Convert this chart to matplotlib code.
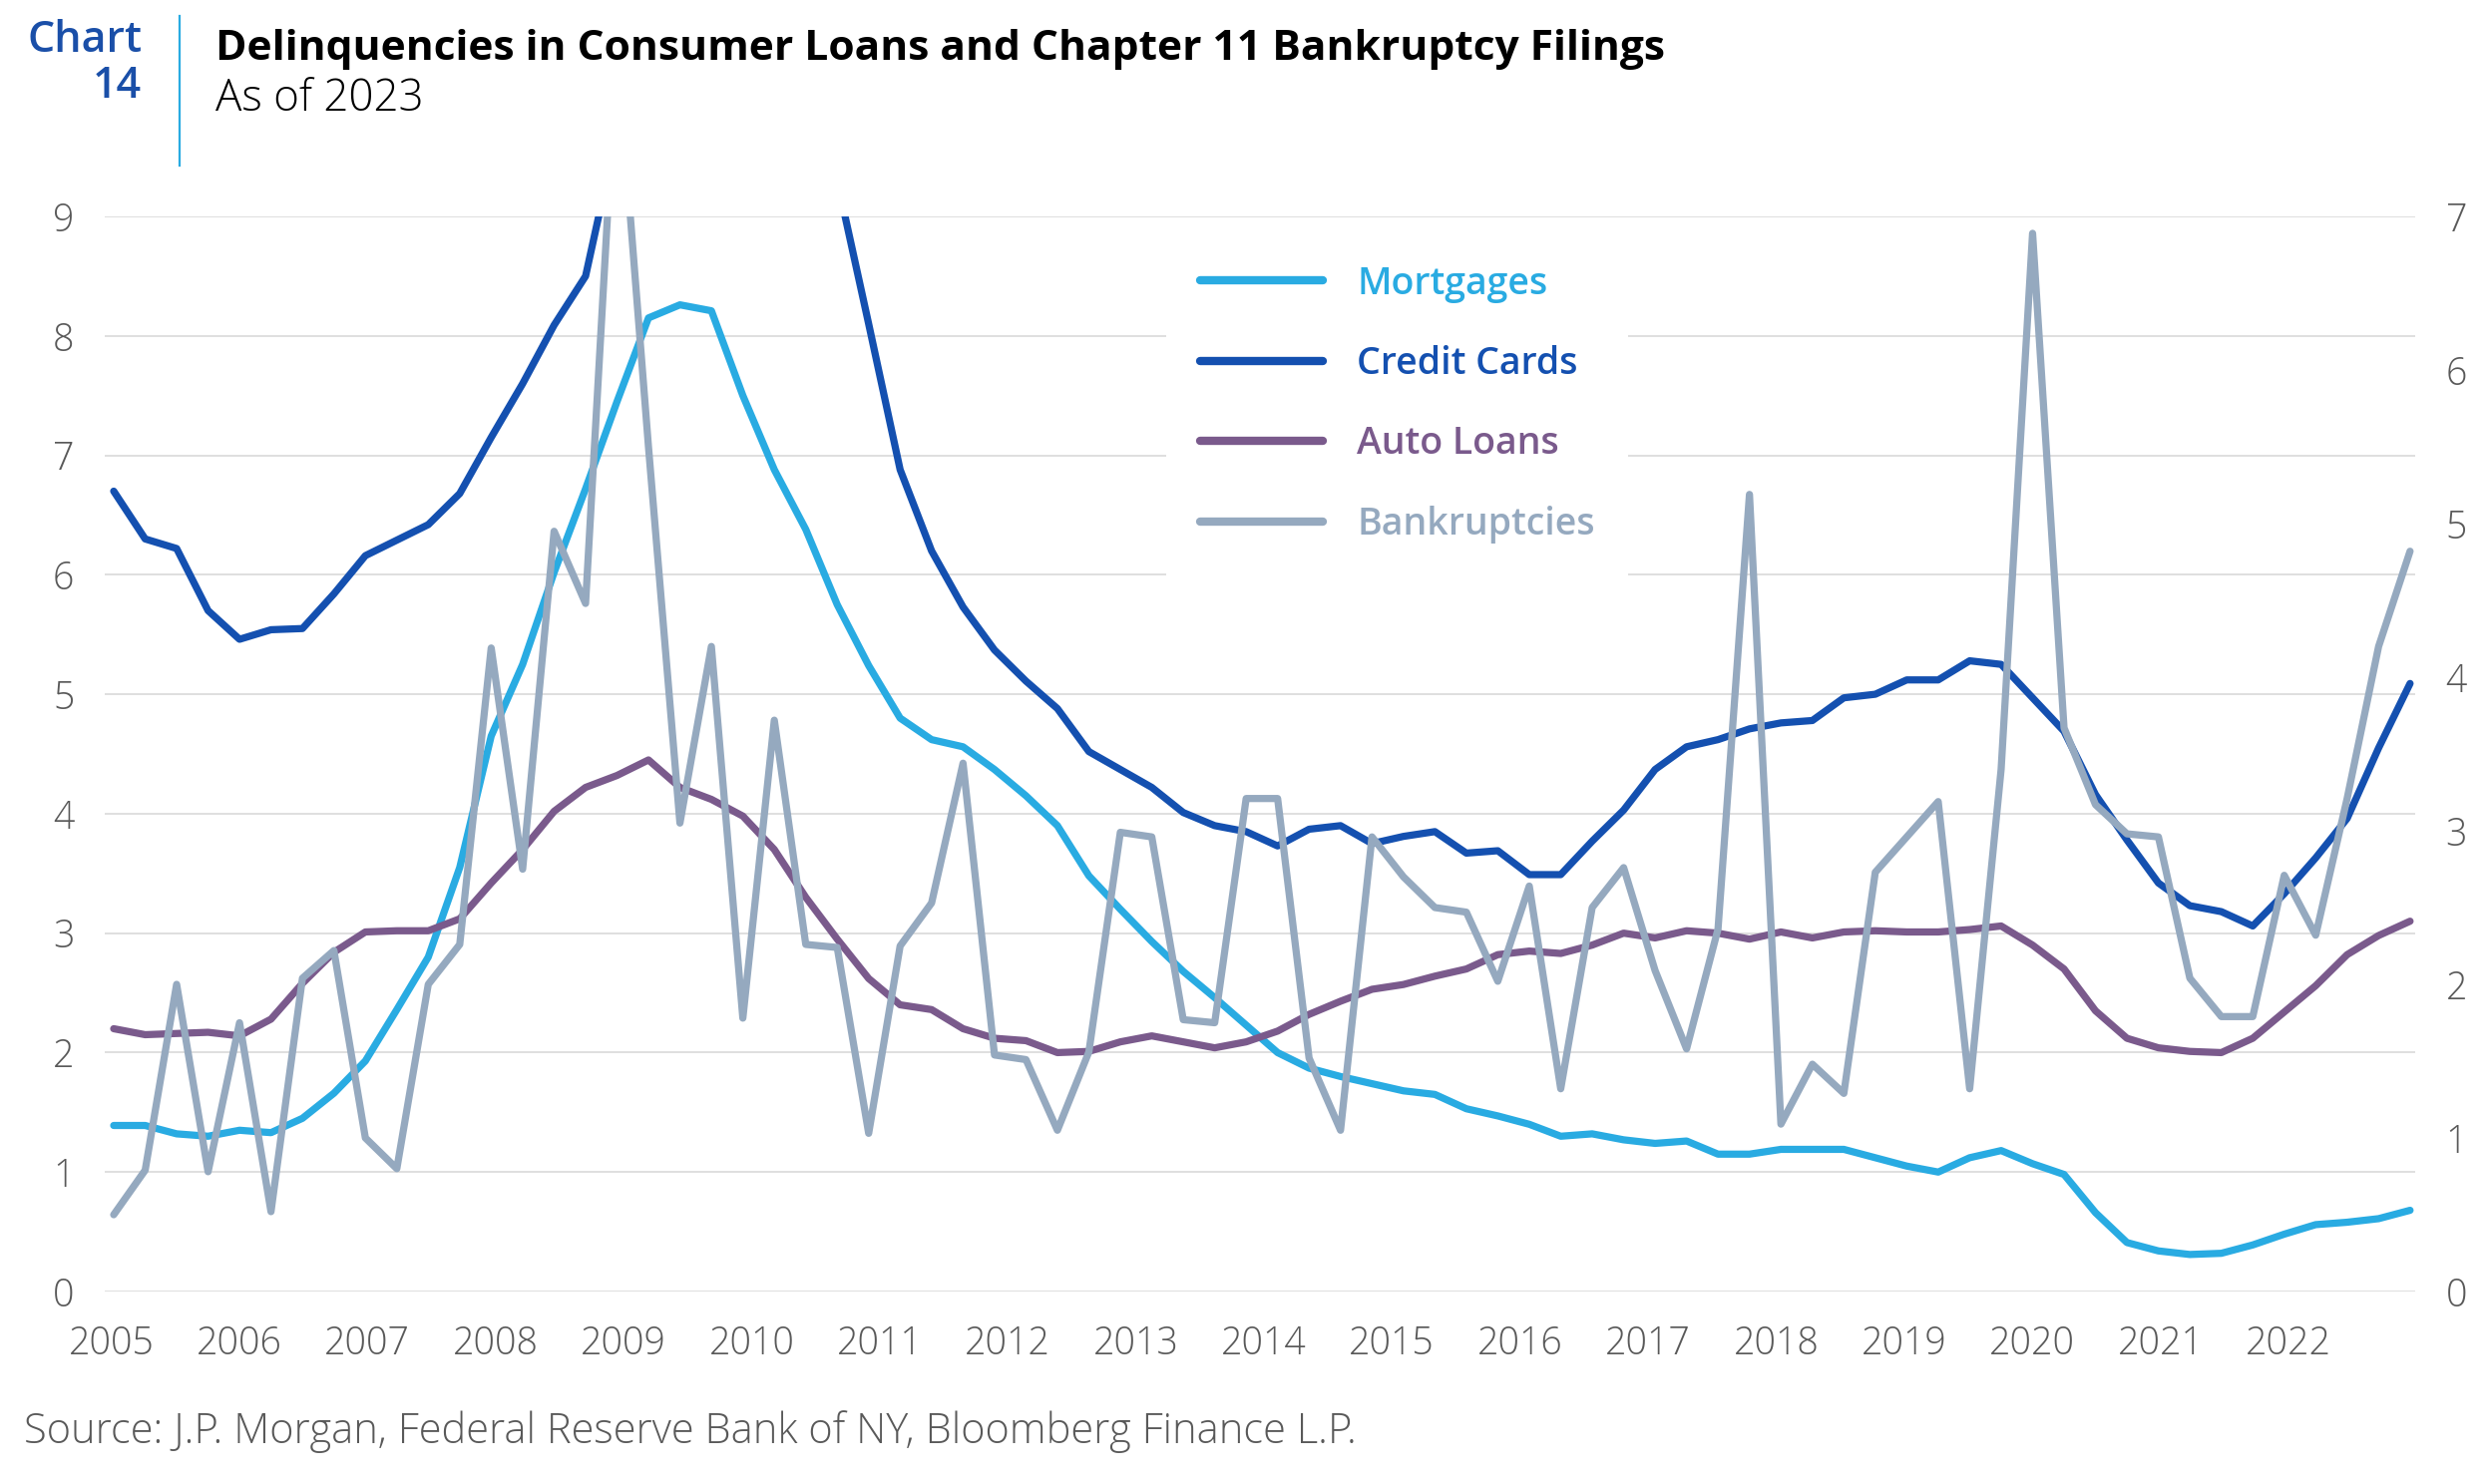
import numpy as np
import matplotlib.pyplot as plt
from matplotlib.lines import Line2D

plt.rcParams['font.family'] = ['Open Sans', 'DejaVu Sans']

# Delinquency rates (%), left axis
mortgages = [1.39, 1.39, 1.32, 1.30, 1.35, 1.33, 1.45, 1.66, 1.93, 2.36,
             2.80, 3.55, 4.65, 5.25, 6.02, 6.72, 7.45, 8.15, 8.26, 8.21,
             7.50, 6.88, 6.38, 5.75, 5.24, 4.80, 4.62, 4.56, 4.37, 4.15,
             3.90, 3.48, 3.20, 2.93, 2.68, 2.46, 2.23, 2.00, 1.87, 1.80,
             1.74, 1.68, 1.65, 1.53, 1.47, 1.40, 1.30, 1.32, 1.27, 1.24,
             1.26, 1.15, 1.15, 1.19, 1.19, 1.19, 1.12, 1.05, 1.00, 1.12,
             1.18, 1.07, 0.98, 0.66, 0.41, 0.34, 0.31, 0.32, 0.39, 0.48,
             0.56, 0.58, 0.61, 0.68]
credit_cards = [6.70, 6.30, 6.22, 5.70, 5.46, 5.54, 5.55, 5.84, 6.16, 6.29,
                6.42, 6.68, 7.15, 7.60, 8.09, 8.50, 9.70, 10.6, 11.3, 11.8,
                11.9, 11.4, 10.5, 9.30, 8.10, 6.88, 6.20, 5.73, 5.37, 5.11,
                4.88, 4.52, 4.37, 4.22, 4.01, 3.90, 3.85, 3.73, 3.87, 3.90,
                3.75, 3.81, 3.85, 3.67, 3.69, 3.49, 3.49, 3.77, 4.03, 4.37,
                4.56, 4.62, 4.71, 4.76, 4.78, 4.97, 5.00, 5.12, 5.12, 5.28,
                5.25, 4.97, 4.69, 4.16, 3.78, 3.42, 3.23, 3.18, 3.06, 3.33,
                3.63, 3.96, 4.55, 5.09]
auto_loans = [2.20, 2.15, 2.16, 2.17, 2.14, 2.28, 2.58, 2.84, 3.01, 3.02,
              3.02, 3.12, 3.42, 3.70, 4.02, 4.22, 4.32, 4.45, 4.22, 4.12,
              3.98, 3.70, 3.30, 2.95, 2.62, 2.40, 2.36, 2.20, 2.12, 2.10,
              2.00, 2.01, 2.09, 2.14, 2.09, 2.04, 2.09, 2.18, 2.32, 2.43,
              2.53, 2.57, 2.64, 2.70, 2.82, 2.85, 2.83, 2.90, 3.00, 2.96,
              3.02, 3.00, 2.95, 3.01, 2.96, 3.01, 3.02, 3.01, 3.01, 3.03,
              3.06, 2.90, 2.70, 2.35, 2.12, 2.04, 2.01, 2.00, 2.12, 2.34,
              2.56, 2.82, 2.98, 3.10]
# Chapter 11 filings, right axis
bankruptcies = [0.50, 0.79, 2.00, 0.78, 1.75, 0.52, 2.04, 2.22, 1.00, 0.80,
                2.00, 2.26, 4.19, 2.75, 4.95, 4.48, 8.10, 5.50, 3.05, 4.20,
                1.78, 3.72, 2.26, 2.24, 1.03, 2.25, 2.53, 3.44, 1.54, 1.51,
                1.05, 1.56, 2.99, 2.96, 1.77, 1.75, 3.21, 3.21, 1.52, 1.05,
                2.96, 2.70, 2.50, 2.47, 2.02, 2.64, 1.32, 2.50, 2.76, 2.09,
                1.58, 2.36, 5.19, 1.09, 1.48, 1.29, 2.73, 2.96, 3.19, 1.32,
                3.40, 6.89, 3.67, 3.17, 2.98, 2.96, 2.04, 1.79, 1.79, 2.71,
                2.32, 3.21, 4.20, 4.82]

year_labels = list(range(2005, 2023))
left_ticks = list(range(0, 10))
right_ticks = list(range(0, 8))

series_names = ['Mortgages', 'Credit Cards', 'Auto Loans', 'Bankruptcies']
series_colors = ['#29abe2', '#1450b0', '#7a5a8c', '#95a9bf']
tick_color = '#595959'

# evenly spaced observations from the 2005 label to just short of 2023
obs = np.linspace(2005.02, 2022.95, len(mortgages))

W, H = 2498, 1488
fig = plt.figure(figsize=(W / 200, H / 200), dpi=200)
ax = fig.add_axes([105 / W, 1 - 1295 / H, (2421 - 105) / W, (1295 - 217) / H])
ax2 = ax.twinx()

line_kw = dict(lw=2.6, solid_capstyle='round', solid_joinstyle='round')
handles = []
for vals, name, col in zip([mortgages, credit_cards, auto_loans], series_names[:3], series_colors[:3]):
    h, = ax.plot(obs, vals, color=col, label=name, **line_kw)
    handles.append(h)
h, = ax2.plot(obs, bankruptcies, color=series_colors[3], label=series_names[3], **line_kw)
handles.append(h)

ax.set_xlim(2004.95, 2022.99)
ax.set_ylim(0, 9)
ax2.set_ylim(0, 7)
ax.set_xticks(year_labels)
ax.set_xticklabels([str(y) for y in year_labels])
ax.set_yticks(left_ticks)
ax2.set_yticks(right_ticks)

ax.grid(axis='y', color='#d9d9d9', lw=0.6)
ax.grid(axis='x', visible=False)
ax.set_axisbelow(True)
for a in (ax, ax2):
    for s in a.spines.values():
        s.set_visible(False)
ax.tick_params(axis='x', length=0, pad=12, labelsize=13.5, labelcolor=tick_color)
ax.tick_params(axis='y', length=0, pad=11, labelsize=13.5, labelcolor=tick_color)
ax2.tick_params(axis='y', length=0, pad=11, labelsize=13.5, labelcolor=tick_color)
for lab in ax.get_xticklabels() + ax.get_yticklabels() + ax2.get_yticklabels():
    lab.set_fontweight('light')

leg = ax2.legend(handles, series_names, loc='upper left',
                 bbox_to_anchor=(1150 / W, 1 - 213 / H), bbox_transform=fig.transFigure,
                 frameon=True, facecolor='white', edgecolor='none', framealpha=1,
                 fancybox=False, borderpad=0.9, handlelength=3.3, handletextpad=0.9,
                 labelspacing=1.13, prop={'size': 13.5, 'weight': 'semibold'})
for t, c in zip(leg.get_texts(), series_colors):
    t.set_color(c)
for lh in leg.legend_handles:
    lh.set_linewidth(3.0)

# header block
fig.text(142 / W, 1 - 40 / H, 'Chart', ha='right', va='center', fontsize=15.5,
         fontweight='semibold', color='#1a4fa8')
fig.text(142 / W, 1 - 86 / H, '14', ha='right', va='center', fontsize=15.5,
         fontweight='semibold', color='#1a4fa8')
fig.add_artist(Line2D([180 / W, 180 / W], [1 - 16 / H, 1 - 166 / H], color='#29abe2', lw=0.8))
fig.text(216 / W, 1 - 50 / H, 'Delinquencies in Consumer Loans and Chapter 11 Bankruptcy Filings',
         ha='left', va='center', fontsize=15.3, fontweight='bold', color='black')
fig.text(216 / W, 1 - 100 / H, 'As of 2023', ha='left', va='center', fontsize=15.8,
         fontweight='light', color='black')
fig.text(24 / W, 1 - 1436 / H,
         'Source: J.P. Morgan, Federal Reserve Bank of NY, Bloomberg Finance L.P.',
         ha='left', va='center', fontsize=15, fontweight='light', color=tick_color)

fig.savefig('out.png', dpi=200)
